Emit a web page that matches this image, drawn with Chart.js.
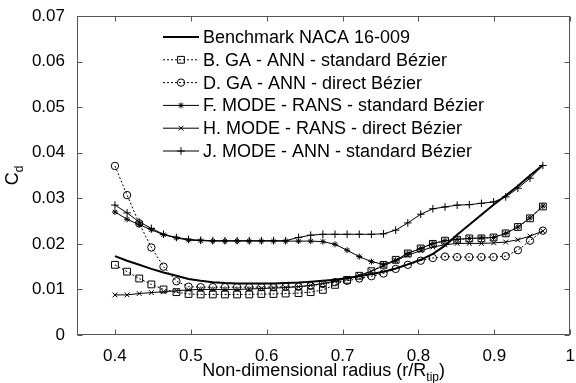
<!DOCTYPE html>
<html>
<head>
<meta charset="utf-8">
<script src="https://cdn.jsdelivr.net/npm/chart.js@4.4.0/dist/chart.umd.min.js"></script>
<style>
  html, body { margin: 0; padding: 0; background: #fff; }
  canvas { display: block; }
</style>
</head>
<body>
<canvas id="myChart" width="576" height="383"></canvas>
<script>
// radial stations (r/Rtip)
const radius = [0.400, 0.416, 0.432, 0.448, 0.464, 0.481, 0.497, 0.513, 0.529, 0.545, 0.561, 0.577,
                0.593, 0.609, 0.625, 0.642, 0.658, 0.674, 0.690, 0.706, 0.722, 0.738, 0.754, 0.770,
                0.786, 0.803, 0.819, 0.835, 0.851, 0.867, 0.883, 0.899, 0.915, 0.931, 0.947, 0.964];

// Cd per design
const benchmark = [0.0173, 0.0163, 0.0154, 0.0145, 0.0137, 0.0130, 0.0123, 0.0119, 0.0116, 0.0114, 0.0113, 0.0113,
                   0.0113, 0.0113, 0.0114, 0.0115, 0.0117, 0.0119, 0.0121, 0.0125, 0.0129, 0.0134, 0.0139, 0.0146,
                   0.0155, 0.0165, 0.0178, 0.0196, 0.0220, 0.0242, 0.0264, 0.0286, 0.0306, 0.0327, 0.0350, 0.0373];
const gaAnnStd = [0.0154, 0.0139, 0.0124, 0.0111, 0.0100, 0.0094, 0.0090, 0.0089, 0.0089, 0.0089, 0.0089, 0.0089,
                  0.0090, 0.0090, 0.0091, 0.0092, 0.0094, 0.0099, 0.0110, 0.0121, 0.0130, 0.0140, 0.0154, 0.0165,
                  0.0179, 0.0190, 0.0200, 0.0207, 0.0209, 0.0212, 0.0212, 0.0214, 0.0223, 0.0237, 0.0256, 0.0282];
const gaAnnDirect = [0.0371, 0.0307, 0.0245, 0.0192, 0.0150, 0.0118, 0.0106, 0.0105, 0.0105, 0.0105, 0.0105, 0.0105,
                     0.0105, 0.0105, 0.0106, 0.0106, 0.0108, 0.0112, 0.0116, 0.0119, 0.0124, 0.0129, 0.0135, 0.0145,
                     0.0154, 0.0163, 0.0169, 0.0172, 0.0171, 0.0171, 0.0171, 0.0171, 0.0173, 0.0186, 0.0207, 0.0229];
const modeRansStd = [0.0270, 0.0254, 0.0242, 0.0231, 0.0220, 0.0213, 0.0208, 0.0207, 0.0206, 0.0206, 0.0206, 0.0206,
                     0.0206, 0.0206, 0.0206, 0.0206, 0.0206, 0.0205, 0.0199, 0.0186, 0.0172, 0.0161, 0.0155, 0.0164,
                     0.0179, 0.0190, 0.0201, 0.0207, 0.0210, 0.0212, 0.0213, 0.0214, 0.0223, 0.0237, 0.0257, 0.0283];
const modeRansDirect = [0.0088, 0.0088, 0.0091, 0.0093, 0.0095, 0.0097, 0.0099, 0.0100, 0.0100, 0.0100, 0.0100, 0.0101,
                        0.0102, 0.0103, 0.0104, 0.0106, 0.0109, 0.0113, 0.0118, 0.0124, 0.0131, 0.0140, 0.0152, 0.0163,
                        0.0175, 0.0185, 0.0193, 0.0198, 0.0201, 0.0201, 0.0201, 0.0202, 0.0204, 0.0209, 0.0217, 0.0228];
const modeAnnStd = [0.0285, 0.0268, 0.0248, 0.0234, 0.0221, 0.0214, 0.0210, 0.0208, 0.0207, 0.0207, 0.0207, 0.0207,
                    0.0207, 0.0207, 0.0207, 0.0214, 0.0219, 0.0221, 0.0221, 0.0221, 0.0221, 0.0221, 0.0222, 0.0230,
                    0.0246, 0.0265, 0.0277, 0.0281, 0.0285, 0.0286, 0.0289, 0.0292, 0.0303, 0.0322, 0.0344, 0.0372];

const xTicks = [0.4, 0.5, 0.6, 0.7, 0.8, 0.9, 1];
const xTickLabels = ['0.4', '0.5', '0.6', '0.7', '0.8', '0.9', '1'];
const yTicks = [0, 0.01, 0.02, 0.03, 0.04, 0.05, 0.06, 0.07];
const yTickLabels = ['0', '0.01', '0.02', '0.03', '0.04', '0.05', '0.06', '0.07'];

const FONT = '"Liberation Sans", Arial, sans-serif';

function pts(vals) {
    return vals.map((v, i) => ({ x: radius[i], y: v }));
}

function series(label, vals, style, r, dash, width) {
    return {
        label: label,
        data: pts(vals),
        borderColor: '#000',
        backgroundColor: 'rgba(0,0,0,0)',
        borderWidth: width,
        borderDash: dash,
        pointStyle: style,
        pointRadius: r,
        pointBorderWidth: 1,
        pointBorderColor: '#000',
        pointBackgroundColor: 'rgba(0,0,0,0)',
        tension: 0,
    };
}

// box with inward ticks + axis titles (matlab look)
const axesBox = {
    id: 'axesBox',
    afterDatasetsDraw(chart) {
        const ctx = chart.ctx;
        const a = chart.chartArea;
        const L = Math.round(a.left) + 0.5, R = Math.round(a.right) - 0.5;
        const T = Math.round(a.top) + 0.5, B = Math.round(a.bottom) - 0.5;
        ctx.save();
        ctx.strokeStyle = '#555';
        ctx.lineWidth = 1;
        ctx.setLineDash([]);
        ctx.strokeRect(L, T, R - L, B - T);
        ctx.beginPath();
        chart.scales.x.ticks.forEach(t => {
            const px = Math.round(chart.scales.x.getPixelForValue(t.value)) + 0.5;
            ctx.moveTo(px, B); ctx.lineTo(px, B - 5);
            ctx.moveTo(px, T); ctx.lineTo(px, T + 5);
        });
        chart.scales.y.ticks.forEach(t => {
            const py = Math.round(chart.scales.y.getPixelForValue(t.value)) + 0.5;
            ctx.moveTo(L, py); ctx.lineTo(L + 5, py);
            ctx.moveTo(R, py); ctx.lineTo(R - 5, py);
        });
        ctx.stroke();

        // y title: C_d
        ctx.fillStyle = '#000';
        ctx.translate(18, (a.top + a.bottom) / 2);
        ctx.rotate(-Math.PI / 2);
        ctx.textBaseline = 'alphabetic';
        ctx.font = '18px ' + FONT;
        const cw = ctx.measureText('C').width;
        ctx.font = '12px ' + FONT;
        const dw = ctx.measureText('d').width;
        const sx = -(cw + dw) / 2;
        ctx.font = '18px ' + FONT;
        ctx.fillText('C', sx, 0);
        ctx.font = '12px ' + FONT;
        ctx.fillText('d', sx + cw, 5);
        ctx.setTransform(1, 0, 0, 1, 0, 0);

        // x title with subscript
        const main = 'Non-dimensional radius (r/R';
        ctx.font = '18px ' + FONT;
        const w1 = ctx.measureText(main).width;
        const w3 = ctx.measureText(')').width;
        ctx.font = '12px ' + FONT;
        const w2 = ctx.measureText('tip').width;
        let x0 = (a.left + a.right) / 2 - (w1 + w2 + w3) / 2;
        const by = 376;
        ctx.font = '18px ' + FONT;
        ctx.fillText(main, x0, by);
        ctx.font = '12px ' + FONT;
        ctx.fillText('tip', x0 + w1, by + 5);
        ctx.font = '18px ' + FONT;
        ctx.fillText(')', x0 + w1 + w2, by);
        ctx.restore();
    }
};

// legend drawn inside the axes
const insideLegend = {
    id: 'insideLegend',
    afterDraw(chart) {
        const ctx = chart.ctx;
        ctx.save();
        chart.data.datasets.forEach((ds, i) => {
            const y = 37 + i * 22.8;
            ctx.strokeStyle = ds.borderColor;
            ctx.lineWidth = ds.borderWidth;
            ctx.setLineDash(ds.borderDash || []);
            ctx.beginPath();
            ctx.moveTo(163, y);
            ctx.lineTo(199, y);
            ctx.stroke();
            ctx.setLineDash([]);
            if (ds.pointRadius > 0) {
                ctx.lineWidth = 1;
                ctx.fillStyle = 'rgba(0,0,0,0)';
                Chart.helpers.drawPoint(ctx, {
                    pointStyle: ds.pointStyle, radius: ds.pointRadius, borderWidth: 1, rotation: 0
                }, 181, y);
            }
            ctx.fillStyle = '#000';
            ctx.font = '18px ' + FONT;
            ctx.textBaseline = 'middle';
            ctx.fillText(ds.label, 203, y + 1);
        });
        ctx.restore();
    }
};

const ctx = document.getElementById('myChart').getContext('2d');

const myChart = new Chart(ctx, {
    type: 'line',
    data: {
        datasets: [
            series('Benchmark NACA 16-009', benchmark, 'circle', 0, [], 2),
            series('B. GA - ANN - standard Bézier', gaAnnStd, 'rect', 4.8, [2, 2], 1),
            series('D. GA - ANN - direct Bézier', gaAnnDirect, 'circle', 3.7, [2, 2], 1),
            series('F. MODE - RANS - standard Bézier', modeRansStd, 'star', 3, [], 1),
            series('H. MODE - RANS - direct Bézier', modeRansDirect, 'crossRot', 3.4, [], 1),
            series('J. MODE - ANN - standard Bézier', modeAnnStd, 'cross', 3.8, [], 1),
        ],
    },
    options: {
        responsive: false,
        animation: false,
        layout: { padding: { top: 16, right: 2, left: 0, bottom: 0 } },
        plugins: {
            legend: { display: false },
            tooltip: { enabled: false },
        },
        scales: {
            x: {
                type: 'linear',
                min: 0.35,
                max: 1,
                grid: { display: false },
                border: { display: false },
                afterBuildTicks: s => { s.ticks = xTicks.map(v => ({ value: v })); },
                afterFit: s => { s.height = 48; s.paddingLeft = 0; s.paddingRight = 0; },
                ticks: {
                    autoSkip: false,
                    maxRotation: 0,
                    padding: 3,
                    color: '#000',
                    font: { family: FONT, size: 17 },
                    callback: (v, i) => xTickLabels[i],
                },
            },
            y: {
                min: 0,
                max: 0.07,
                grid: { display: false },
                border: { display: false },
                afterBuildTicks: s => { s.ticks = yTicks.map(v => ({ value: v })); },
                afterFit: s => { s.width = 77; s.paddingTop = 0; s.paddingBottom = 0; },
                ticks: {
                    autoSkip: false,
                    padding: 4,
                    color: '#000',
                    font: { family: FONT, size: 17 },
                    callback: (v, i) => yTickLabels[i],
                },
            },
        },
    },
    plugins: [axesBox, insideLegend],
});
</script>
</body>
</html>
